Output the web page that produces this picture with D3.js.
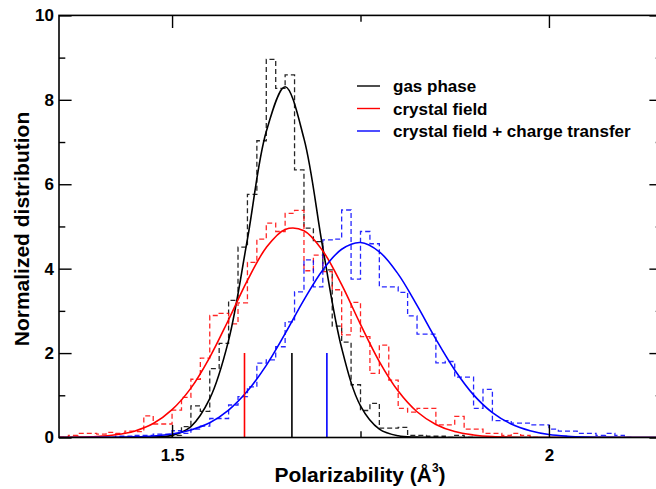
<!DOCTYPE html>
<html>
<head>
<meta charset="utf-8">
<script src="https://cdn.jsdelivr.net/npm/d3@7"></script>
<style>
  body { margin: 0; background: #fff; }
  text { font-family: "Liberation Sans", Arial, sans-serif; font-weight: bold; }
</style>
</head>
<body>
<div id="chart"></div>
<script>
// Histogram bins are 0.0125 wide; each series lists bin heights from its start value.
const binWidth = 0.0125;

const gasStart = 1.4875;
const gasHist = [0.0, 0.05, 0.26, 0.75, 0.62, 1.63, 2.23, 3.25, 4.51, 5.76, 7.03, 8.96, 8.27, 8.59,
  6.34, 4.96, 4.64, 3.97, 2.64, 2.26, 1.25, 0.64, 0.81, 0.22, 0.22, 0.24, 0.05, 0.05, 0.03, 0.03,
  0.0, 0.05, 0.0];

const crystalStart = 1.35;
const crystalHist = [0.0, 0.05, 0.1, 0.1, 0.08, 0.12, 0.1, 0.15, 0.14, 0.51, 0.32, 0.32, 0.65, 0.95,
  1.38, 1.88, 2.89, 2.94, 2.69, 3.19, 4.15, 4.70, 5.08, 4.88, 5.31, 5.38, 3.95, 4.32, 3.93, 3.50,
  2.43, 3.20, 2.39, 1.52, 2.19, 1.36, 0.69, 0.6, 0.69, 0.69, 0.3, 0.3, 0.5, 0.2, 0.2, 0.1, 0.1,
  0.05, 0.1, 0.05, 0.0];

const transferStart = 1.4;
const transferHist = [0.0, 0.0, 0.03, 0.03, 0.05, 0.05, 0.08, 0.08, 0.16, 0.1, 0.2, 0.27, 0.45, 0.45,
  0.77, 0.97, 1.2, 1.76, 1.84, 2.15, 2.74, 3.45, 4.21, 3.57, 4.68, 4.70, 5.39, 3.75, 4.88, 4.59,
  3.57, 3.57, 3.44, 2.88, 2.45, 2.45, 1.77, 1.80, 1.43, 1.43, 0.69, 1.14, 0.40, 0.40, 0.34, 0.34,
  0.30, 0.30, 0.2, 0.15, 0.15, 0.1, 0.1, 0.05, 0.1, 0.05, 0.0];

// Fitted curves, read at these polarizability values
const curveX = [1.35, 1.375, 1.4, 1.425, 1.45, 1.475, 1.5, 1.525, 1.55, 1.575, 1.6, 1.625, 1.65,
  1.675, 1.7, 1.725, 1.75, 1.775, 1.8, 1.825, 1.85, 1.875, 1.9, 1.925, 1.95, 1.975, 2.0, 2.025,
  2.05, 2.075, 2.1, 2.125, 2.15];
const gasCurve = [0, 0, 0, 0, 0, 0.01, 0.05, 0.26, 0.92, 2.3, 4.7, 7.25, 8.31, 7.08, 4.49, 2.12,
  0.75, 0.2, 0.04, 0.01, 0, 0, 0, 0, 0, 0, 0, 0, 0, 0, 0, 0, 0];
const crystalCurve = [0.003, 0.008, 0.024, 0.064, 0.15, 0.33, 0.66, 1.17, 1.9, 2.79, 3.72, 4.5,
  4.93, 4.9, 4.42, 3.62, 2.68, 1.8, 1.1, 0.61, 0.31, 0.14, 0.06, 0.02, 0.007, 0, 0, 0, 0, 0, 0, 0, 0];
const transferCurve = [0, 0, 0.002, 0.005, 0.014, 0.035, 0.082, 0.18, 0.35, 0.65, 1.1, 1.71, 2.46,
  3.26, 3.97, 4.46, 4.62, 4.4, 3.87, 3.13, 2.33, 1.6, 1.01, 0.59, 0.32, 0.16, 0.07, 0.03, 0.012,
  0.004, 0.001, 0, 0];

// Short vertical marks (mean values)
const markerX = [1.5961, 1.659, 1.7054];
const markerHeight = 2;

const seriesNames = ['gas phase', 'crystal field', 'crystal field + charge transfer'];
const seriesColors = ['#000000', '#ff0000', '#0000ff'];

const xMajor = [1.5, 2];
const xMinor = [1.75];
const yMajor = [0, 2, 4, 6, 8, 10];
const yMinor = [1, 3, 5, 7, 9];

const width = 656, height = 489;
const mLeft = 59, mRight = 662, mTop = 15.4, mBottom = 437.5;

const svg = d3.select('#chart').append('svg')
  .attr('width', width)
  .attr('height', height);

const x = d3.scaleLinear().domain([1.35, 2.15]).range([mLeft, mRight]);
const y = d3.scaleLinear().domain([0, 10]).range([mBottom, mTop]);

svg.append('clipPath').attr('id', 'plot-clip')
  .append('rect')
  .attr('x', mLeft).attr('y', mTop)
  .attr('width', mRight - mLeft).attr('height', mBottom - mTop);

const plot = svg.append('g').attr('clip-path', 'url(#plot-clip)');

// Histograms as dashed stairs
function stairs(start, values) {
  const pts = values.map((v, i) => [start + i * binWidth, v]);
  pts.push([start + values.length * binWidth, values[values.length - 1]]);
  return pts;
}
const stepLine = d3.line()
  .x(d => x(d[0]))
  .y(d => y(d[1]))
  .curve(d3.curveStepAfter);

const histograms = [
  [gasStart, gasHist],
  [crystalStart, crystalHist],
  [transferStart, transferHist]
];
histograms.forEach((h, i) => {
  plot.append('path')
    .attr('d', stepLine(stairs(h[0], h[1])))
    .attr('fill', 'none')
    .attr('stroke', seriesColors[i])
    .attr('stroke-width', 1.3)
    .attr('stroke-dasharray', '5,3')
    .attr('opacity', 0.85);
});

// Fitted curves
const curveLine = d3.line()
  .x((d, i) => x(curveX[i]))
  .y(d => y(Math.max(0, d)))
  .curve(d3.curveCatmullRom);

[gasCurve, crystalCurve, transferCurve].forEach((c, i) => {
  plot.append('path')
    .attr('d', curveLine(c))
    .attr('fill', 'none')
    .attr('stroke', seriesColors[i])
    .attr('stroke-width', 1.6);
});

// Marker lines, drawn in the order red, black, blue
const markerColors = [seriesColors[1], seriesColors[0], seriesColors[2]];
plot.selectAll('.marker')
  .data(markerX)
  .enter().append('line')
  .attr('class', 'marker')
  .attr('x1', d => x(d)).attr('x2', d => x(d))
  .attr('y1', y(0)).attr('y2', y(markerHeight))
  .attr('stroke', (d, i) => markerColors[i])
  .attr('stroke-width', 1.6);

// Frame
svg.append('rect')
  .attr('x', mLeft).attr('y', mTop)
  .attr('width', mRight - mLeft).attr('height', mBottom - mTop)
  .attr('fill', 'none')
  .attr('stroke', '#000')
  .attr('stroke-width', 1.6);

const major = 12.6, minor = 6.3;

// Bottom axis
svg.append('g')
  .attr('transform', `translate(0,${mBottom})`)
  .call(d3.axisBottom(x).tickValues(xMajor).tickFormat(d3.format('')).tickSize(-major).tickPadding(11));
svg.append('g')
  .attr('transform', `translate(0,${mBottom})`)
  .call(d3.axisBottom(x).tickValues(xMinor).tickFormat('').tickSize(-minor));
// Top axis ticks
svg.append('g')
  .attr('transform', `translate(0,${mTop})`)
  .call(d3.axisTop(x).tickValues(xMajor).tickFormat('').tickSize(-major));
svg.append('g')
  .attr('transform', `translate(0,${mTop})`)
  .call(d3.axisTop(x).tickValues(xMinor).tickFormat('').tickSize(-minor));

// Left axis
svg.append('g')
  .attr('transform', `translate(${mLeft},0)`)
  .call(d3.axisLeft(y).tickValues(yMajor).tickFormat(d3.format('d')).tickSize(-major).tickPadding(5));
svg.append('g')
  .attr('transform', `translate(${mLeft},0)`)
  .call(d3.axisLeft(y).tickValues(yMinor).tickFormat('').tickSize(-minor));
// Right axis ticks
svg.append('g')
  .attr('transform', `translate(${mRight},0)`)
  .call(d3.axisRight(y).tickValues(yMajor).tickFormat('').tickSize(-major));
svg.append('g')
  .attr('transform', `translate(${mRight},0)`)
  .call(d3.axisRight(y).tickValues(yMinor).tickFormat('').tickSize(-minor));

svg.selectAll('.domain').remove();
svg.selectAll('.tick line').attr('stroke', '#000').attr('stroke-width', 1.4);
svg.selectAll('.tick text')
  .attr('fill', '#000')
  .style('font-size', '17px');

// Axis titles
const xTitle = svg.append('text')
  .attr('x', 360)
  .attr('y', 482)
  .attr('text-anchor', 'middle')
  .style('font-size', '21px');
xTitle.append('tspan').text('Polarizability (Å');
xTitle.append('tspan').attr('dy', -10).style('font-size', '12px').text('3');
xTitle.append('tspan').attr('dy', 10).text(')');

svg.append('text')
  .attr('transform', 'translate(29,229) rotate(-90)')
  .attr('text-anchor', 'middle')
  .style('font-size', '21px')
  .text('Normalized distribution');

// Legend
const legend = svg.append('g');
seriesNames.forEach((name, i) => {
  const ly = 86 + i * 22.5;
  legend.append('line')
    .attr('x1', 357).attr('x2', 380)
    .attr('y1', ly).attr('y2', ly)
    .attr('stroke', seriesColors[i])
    .attr('stroke-width', 1.4);
  legend.append('text')
    .attr('x', 393).attr('y', ly + 6)
    .style('font-size', '17px')
    .text(name);
});
</script>
</body>
</html>
